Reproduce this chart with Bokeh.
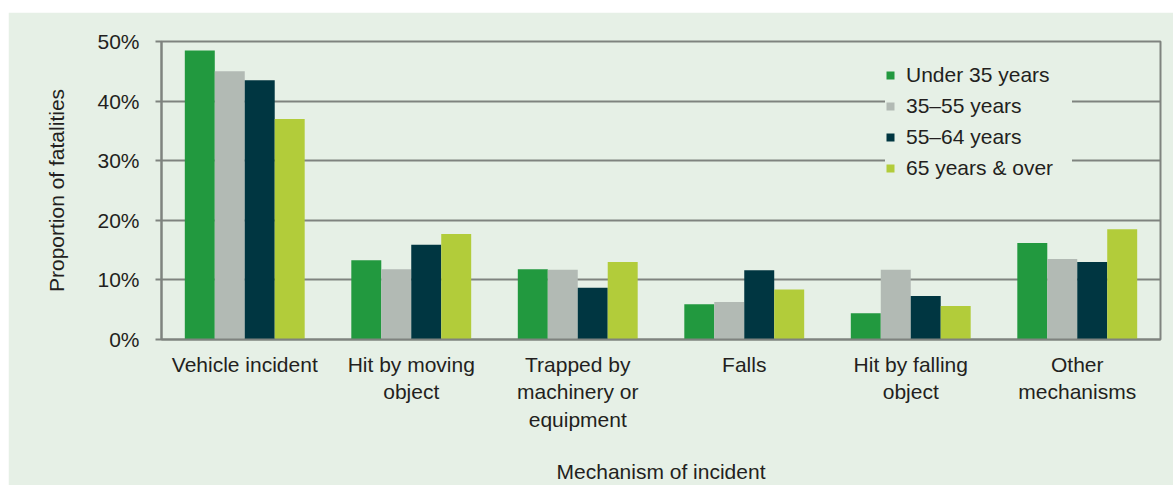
from bokeh.plotting import figure
from bokeh.models import ColumnDataSource, FactorRange, Range1d, FixedTicker, PrintfTickFormatter, Legend, LegendItem
from bokeh.transform import dodge
from bokeh.embed import file_html
from bokeh.resources import INLINE

categories = ["Vehicle incident", "Hit by moving\nobject", "Trapped by\nmachinery or\nequipment",
              "Falls", "Hit by falling\nobject", "Other\nmechanisms"]
under_35 = [48.5, 13.3, 11.8, 5.9, 4.4, 16.2]
age_35_55 = [45.0, 11.8, 11.7, 6.3, 11.7, 13.5]
age_55_64 = [43.5, 15.9, 8.7, 11.6, 7.3, 13.0]
age_65_over = [37.0, 17.7, 13.0, 8.4, 5.6, 18.5]
series_names = ["Under 35 years", "35\u201355 years", "55\u201364 years", "65 years & over"]
y_ticks = [0, 10, 20, 30, 40, 50]

colors = ["#22993F", "#B2BAB4", "#003641", "#B2CC3A"]
BG = "#E6F0E6"
GRID = "#7F837F"
TXT = "#231F20"
FONT = "Liberation Sans"

source = ColumnDataSource(dict(cat=categories, s0=under_35, s1=age_35_55, s2=age_55_64, s3=age_65_over))

p = figure(width=1165, height=473, x_range=FactorRange(*categories), y_range=Range1d(0, 50),
           output_backend="svg", toolbar_location=None,
           min_border_left=153, min_border_right=13, min_border_top=29, min_border_bottom=145)
p.margin = (12, 0, 0, 8)
p.background_fill_color = BG
p.border_fill_color = BG
p.outline_line_color = GRID
p.outline_line_width = 2

offsets = [-0.27, -0.09, 0.09, 0.27]
renderers = []
for i, key in enumerate(["s0", "s1", "s2", "s3"]):
    r = p.vbar(x=dodge("cat", offsets[i], range=p.x_range), top=key, width=0.18, source=source,
               fill_color=colors[i], line_color=None)
    renderers.append(r)

p.yaxis.ticker = FixedTicker(ticks=y_ticks)
p.yaxis.formatter = PrintfTickFormatter(format="%d%%")
p.ygrid.ticker = FixedTicker(ticks=y_ticks)
p.ygrid.grid_line_color = GRID
p.ygrid.grid_line_width = 2
p.xgrid.grid_line_color = None

for ax in (p.xaxis, p.yaxis):
    ax.axis_line_color = GRID
    ax.axis_line_width = 2
    ax.major_label_text_font = FONT
    ax.major_label_text_font_size = "21px"
    ax.major_label_text_color = TXT
    ax.axis_label_text_font = FONT
    ax.axis_label_text_font_size = "21px"
    ax.axis_label_text_color = TXT
    ax.axis_label_text_font_style = "normal"
    ax.minor_tick_line_color = None

p.yaxis.major_tick_line_color = GRID
p.yaxis.major_tick_line_width = 2
p.yaxis.major_tick_out = 6
p.yaxis.major_tick_in = 0
p.yaxis.major_label_standoff = 16
p.yaxis.axis_label = "Proportion of fatalities"
p.yaxis.axis_label_standoff = 26

p.xaxis.major_tick_line_color = None
p.xaxis.major_label_standoff = 7
p.xaxis.axis_label = "Mechanism of incident"
p.xaxis.axis_label_standoff = 26

legend = Legend(items=[LegendItem(label=series_names[i], renderers=[renderers[i]]) for i in range(4)],
                location=(724, 159))
legend.background_fill_color = BG
legend.background_fill_alpha = 1.0
legend.border_line_color = None
legend.label_text_font = FONT
legend.label_text_font_size = "21px"
legend.label_text_color = TXT
legend.glyph_width = 10
legend.glyph_height = 10
legend.label_standoff = 11
legend.label_height = 24
legend.label_width = 166
legend.spacing = 7
legend.padding = 15
legend.margin = 0
p.add_layout(legend, "center")

open("out.html", "w").write(file_html(p, INLINE))
